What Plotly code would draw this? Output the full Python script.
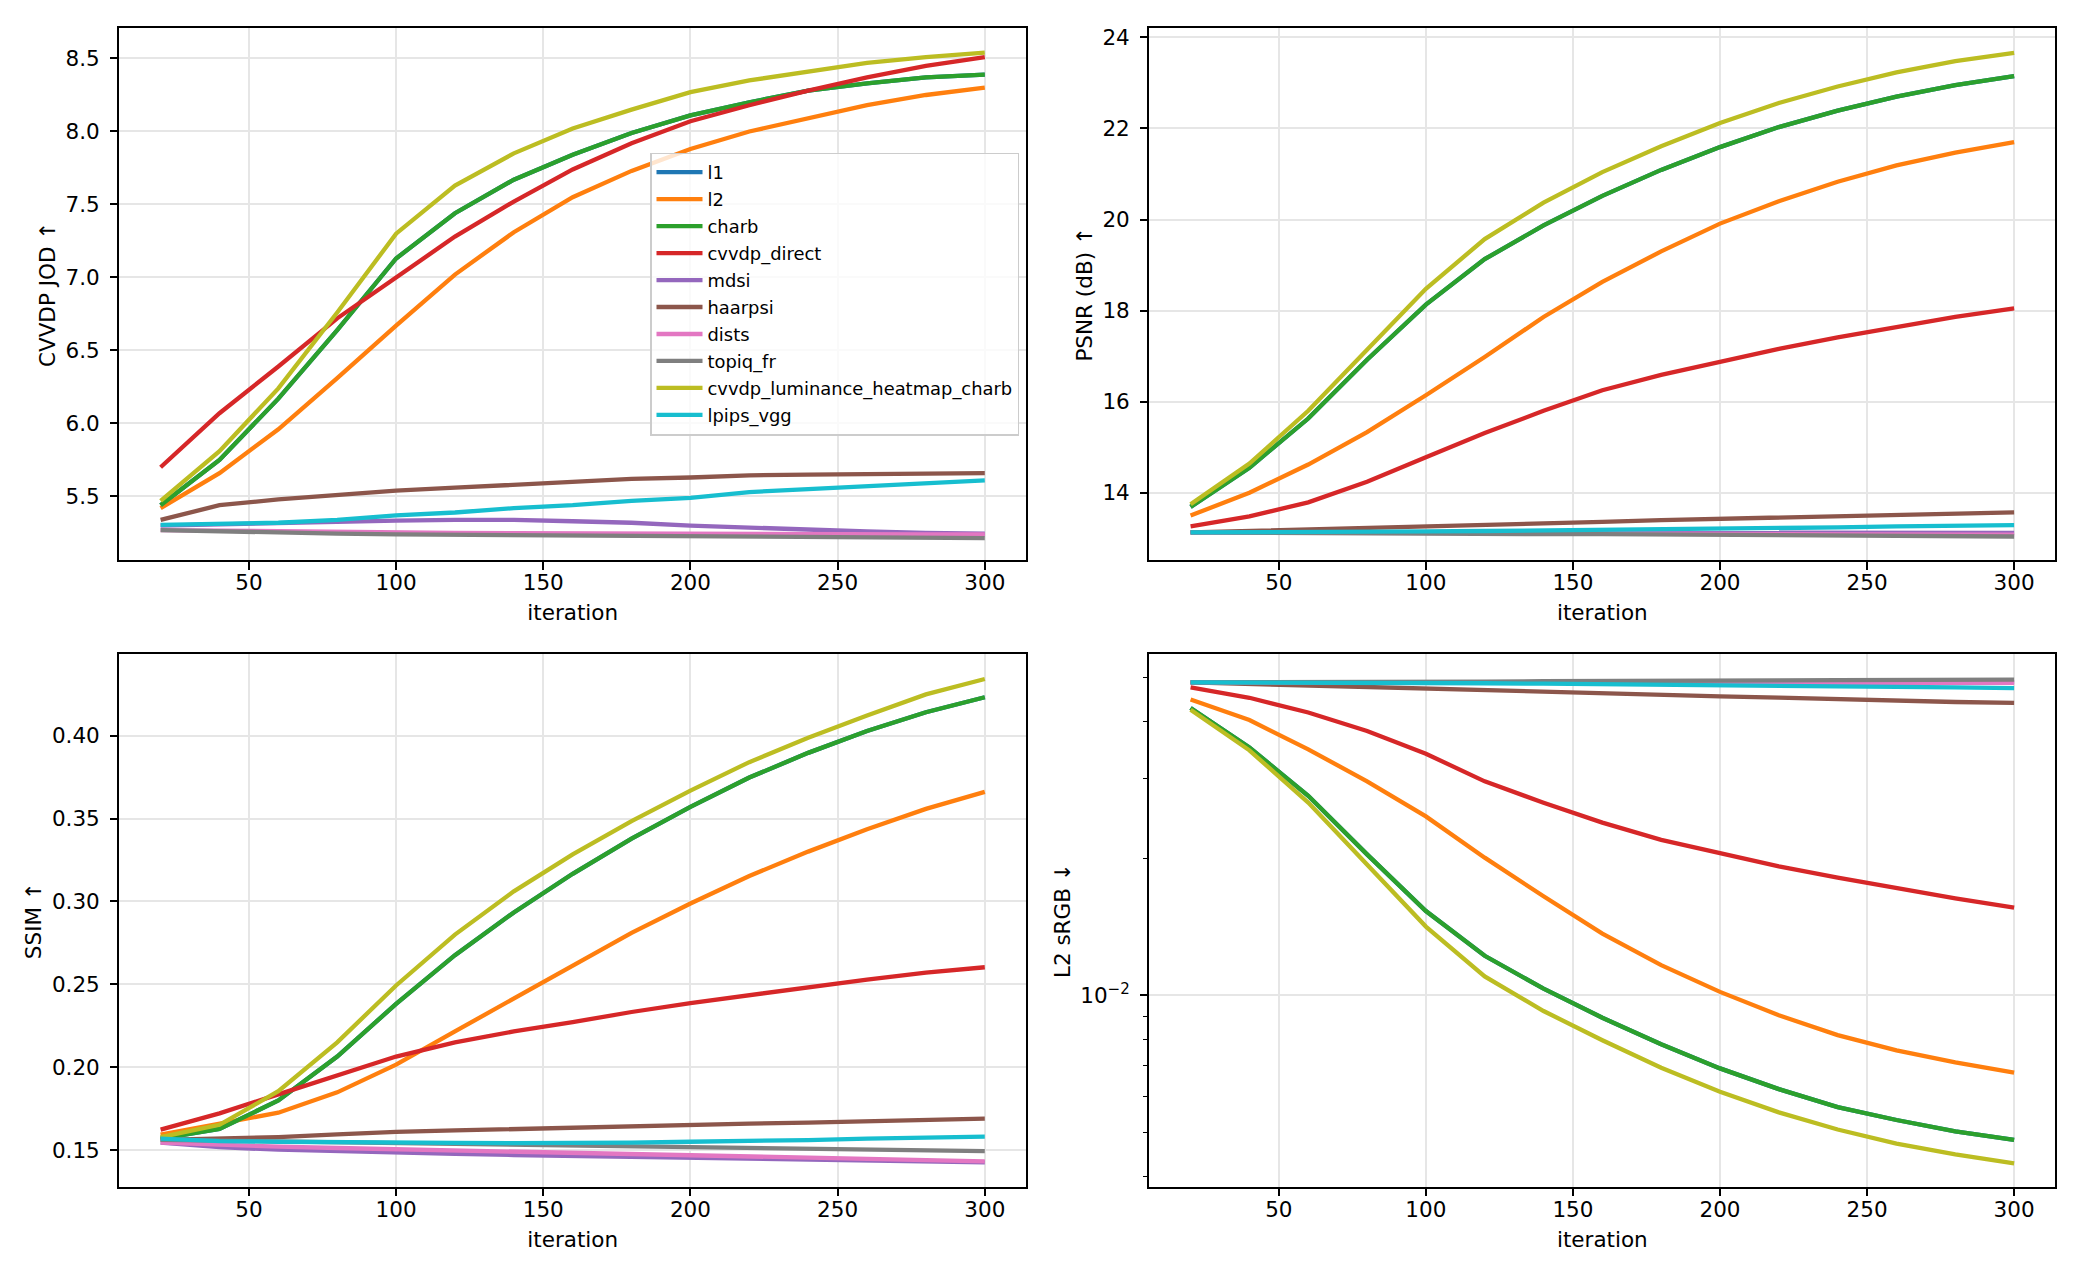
import plotly.graph_objects as go

iterations = [20, 40, 60, 80, 100, 120, 140, 160, 180, 200, 220, 240, 260, 280, 300]

methods = ["l1", "l2", "charb", "cvvdp_direct", "mdsi", "haarpsi", "dists",
           "topiq_fr", "cvvdp_luminance_heatmap_charb", "lpips_vgg"]
colors = ["#1f77b4", "#ff7f0e", "#2ca02c", "#d62728", "#9467bd", "#8c564b",
          "#e377c2", "#7f7f7f", "#bcbd22", "#17becf"]

# CVVDP JOD
jod_charb = [5.44, 5.75, 6.17, 6.64, 7.13, 7.44, 7.67, 7.84, 7.99, 8.11, 8.20, 8.28, 8.33, 8.37, 8.39]
jod = {
    "l1": jod_charb,
    "l2": [5.42, 5.66, 5.96, 6.31, 6.67, 7.02, 7.31, 7.55, 7.73, 7.88, 8.00, 8.09, 8.18, 8.25, 8.30],
    "charb": jod_charb,
    "cvvdp_direct": [5.70, 6.07, 6.39, 6.72, 7.00, 7.28, 7.52, 7.74, 7.92, 8.07, 8.18, 8.28, 8.37, 8.45, 8.51],
    "mdsi": [5.30, 5.31, 5.32, 5.33, 5.335, 5.34, 5.34, 5.33, 5.32, 5.30, 5.285, 5.27, 5.26, 5.25, 5.245],
    "haarpsi": [5.34, 5.44, 5.48, 5.51, 5.54, 5.56, 5.58, 5.60, 5.62, 5.63, 5.645, 5.65, 5.655, 5.66, 5.66],
    "dists": [5.27, 5.265, 5.26, 5.255, 5.25, 5.25, 5.248, 5.246, 5.245, 5.244, 5.243, 5.242, 5.241, 5.24, 5.24],
    "topiq_fr": [5.27, 5.26, 5.25, 5.245, 5.24, 5.237, 5.235, 5.232, 5.23, 5.228, 5.226, 5.224, 5.222, 5.22, 5.215],
    "cvvdp_luminance_heatmap_charb": [5.47, 5.81, 6.24, 6.76, 7.30, 7.63, 7.85, 8.02, 8.15, 8.27, 8.35, 8.41, 8.47, 8.51, 8.54],
    "lpips_vgg": [5.305, 5.31, 5.32, 5.34, 5.37, 5.39, 5.42, 5.44, 5.47, 5.49, 5.53, 5.55, 5.57, 5.59, 5.61],
}

# PSNR (dB)
psnr_charb = [13.69, 14.55, 15.63, 16.92, 18.13, 19.13, 19.87, 20.52, 21.09, 21.59, 22.03, 22.39, 22.70, 22.95, 23.15]
psnr = {
    "l1": psnr_charb,
    "l2": [13.50, 14.00, 14.62, 15.33, 16.14, 16.98, 17.86, 18.63, 19.30, 19.91, 20.40, 20.83, 21.19, 21.47, 21.70],
    "charb": psnr_charb,
    "cvvdp_direct": [13.26, 13.48, 13.79, 14.24, 14.78, 15.31, 15.80, 16.25, 16.59, 16.87, 17.16, 17.41, 17.63, 17.86, 18.05],
    "mdsi": [13.13, 13.13, 13.13, 13.13, 13.13, 13.13, 13.13, 13.13, 13.12, 13.12, 13.12, 13.12, 13.12, 13.12, 13.12],
    "haarpsi": [13.13, 13.16, 13.19, 13.22, 13.26, 13.29, 13.33, 13.36, 13.40, 13.43, 13.46, 13.49, 13.52, 13.54, 13.57],
    "dists": [13.13, 13.13, 13.12, 13.12, 13.12, 13.11, 13.11, 13.11, 13.10, 13.10, 13.10, 13.09, 13.09, 13.09, 13.08],
    "topiq_fr": [13.13, 13.12, 13.12, 13.11, 13.10, 13.10, 13.09, 13.09, 13.08, 13.07, 13.07, 13.06, 13.05, 13.05, 13.04],
    "cvvdp_luminance_heatmap_charb": [13.75, 14.64, 15.80, 17.14, 18.48, 19.57, 20.37, 21.04, 21.61, 22.12, 22.56, 22.92, 23.23, 23.48, 23.66],
    "lpips_vgg": [13.13, 13.13, 13.14, 13.14, 13.15, 13.16, 13.17, 13.18, 13.19, 13.21, 13.22, 13.24, 13.26, 13.27, 13.29],
}

# SSIM
ssim_charb = [0.1569, 0.1627, 0.1799, 0.2064, 0.2382, 0.2676, 0.2934, 0.3167, 0.3380, 0.3571, 0.3748, 0.3897, 0.4029, 0.4142, 0.4233]
ssim = {
    "l1": ssim_charb,
    "l2": [0.1593, 0.1659, 0.1725, 0.1848, 0.2015, 0.2216, 0.2412, 0.2615, 0.2811, 0.2988, 0.3154, 0.3301, 0.3436, 0.3559, 0.3662],
    "charb": ssim_charb,
    "cvvdp_direct": [0.1623, 0.1721, 0.1836, 0.1953, 0.2064, 0.2150, 0.2216, 0.2272, 0.2333, 0.2387, 0.2436, 0.2485, 0.2529, 0.2571, 0.2603],
    "mdsi": [0.1544, 0.1517, 0.1502, 0.1492, 0.1484, 0.1477, 0.1470, 0.1464, 0.1459, 0.1454, 0.1449, 0.1443, 0.1437, 0.1431, 0.1425],
    "haarpsi": [0.1561, 0.1567, 0.1578, 0.1594, 0.1610, 0.1618, 0.1627, 0.1635, 0.1642, 0.1650, 0.1659, 0.1665, 0.1672, 0.1680, 0.1689],
    "dists": [0.1544, 0.1530, 0.1520, 0.1512, 0.1505, 0.1498, 0.1491, 0.1484, 0.1477, 0.1470, 0.1463, 0.1456, 0.1449, 0.1441, 0.1432],
    "topiq_fr": [0.1561, 0.1556, 0.1552, 0.1547, 0.1542, 0.1537, 0.1533, 0.1528, 0.1523, 0.1518, 0.1513, 0.1508, 0.1503, 0.1498, 0.1493],
    "cvvdp_luminance_heatmap_charb": [0.1578, 0.1652, 0.1855, 0.2150, 0.2493, 0.2800, 0.3061, 0.3284, 0.3485, 0.3669, 0.3841, 0.3988, 0.4123, 0.4250, 0.4343],
    "lpips_vgg": [0.1569, 0.1554, 0.1550, 0.1546, 0.1544, 0.1543, 0.1542, 0.1542, 0.1544, 0.1550, 0.1554, 0.1560, 0.1569, 0.1574, 0.1581],
}

# L2 sRGB (log scale)
l2s_charb = [0.04287, 0.03509, 0.02748, 0.02043, 0.01533, 0.01222, 0.01035, 0.00893, 0.00781, 0.00691, 0.00622, 0.00568, 0.00532, 0.00502, 0.00481]
l2srgb = {
    "l1": l2s_charb,
    "l2": [0.04478, 0.04033, 0.03477, 0.02958, 0.02476, 0.02009, 0.01652, 0.01368, 0.01166, 0.01018, 0.00904, 0.00818, 0.00757, 0.00712, 0.00676],
    "charb": l2s_charb,
    "cvvdp_direct": [0.04758, 0.04516, 0.04191, 0.03815, 0.03401, 0.02957, 0.02654, 0.02399, 0.02198, 0.02051, 0.01923, 0.01815, 0.01722, 0.01635, 0.01560],
    "mdsi": [0.0488, 0.0488, 0.0488, 0.0488, 0.0488, 0.0488, 0.0488, 0.0488, 0.0488, 0.0488, 0.0489, 0.0489, 0.0489, 0.0489, 0.0489],
    "haarpsi": [0.0488, 0.0484, 0.0480, 0.0477, 0.0473, 0.0469, 0.0466, 0.0462, 0.0459, 0.0455, 0.0452, 0.0448, 0.0445, 0.0442, 0.0440],
    "dists": [0.0488, 0.0488, 0.0487, 0.0487, 0.0487, 0.0487, 0.0487, 0.0487, 0.0487, 0.0487, 0.0487, 0.0487, 0.0487, 0.0487, 0.0487],
    "topiq_fr": [0.0488, 0.0488, 0.0489, 0.0489, 0.0490, 0.0490, 0.0491, 0.0491, 0.0492, 0.0493, 0.0493, 0.0494, 0.0494, 0.0495, 0.0495],
    "cvvdp_luminance_heatmap_charb": [0.04249, 0.03460, 0.02655, 0.01942, 0.01417, 0.01101, 0.00924, 0.00797, 0.00693, 0.00614, 0.00553, 0.00507, 0.00472, 0.00447, 0.00427],
    "lpips_vgg": [0.0488, 0.0488, 0.0488, 0.0487, 0.0487, 0.0486, 0.0485, 0.0484, 0.0483, 0.0482, 0.0480, 0.0479, 0.0477, 0.0476, 0.0474],
}

x_ticks = [50, 100, 150, 200, 250, 300]

FONT = "DejaVu Sans"
FS = 21.5
LW = 4.3
GRID = "#e6e6e6"

panels = [
    (jod, "x", "y"),
    (psnr, "x2", "y2"),
    (ssim, "x3", "y3"),
    (l2srgb, "x4", "y4"),
]

fig = go.Figure()
for pi, (data, xa, ya) in enumerate(panels):
    for name, col in zip(methods, colors):
        fig.add_trace(go.Scatter(
            x=iterations, y=data[name], mode="lines", name=name,
            line=dict(color=col, width=LW),
            xaxis=xa, yaxis=ya, legendgroup=name, showlegend=(pi == 0),
        ))

W, H = 2080, 1280
xd_left = [119.4 / W, 1026 / W]
xd_right = [1149.4 / W, 2055.3 / W]
yd_top = [1 - 558 / H, 1 - 24.5 / H]
yd_bot = [1 - 1186.5 / H, 1 - 652.5 / H]

def xaxis(domain, anchor):
    return dict(
        domain=domain, anchor=anchor, range=[6, 314], tickmode="array", tickvals=x_ticks,
        showline=True, linecolor="black", linewidth=1.7, mirror=True,
        ticks="outside", ticklen=7.5, tickwidth=1.7, tickcolor="black",
        showgrid=True, gridcolor=GRID, gridwidth=1.6, zeroline=False,
        tickfont=dict(family=FONT, size=FS, color="black"),
        title=dict(text="iteration", font=dict(family=FONT, size=FS, color="black"), standoff=11),
        ticklabelstandoff=-5,
    )

def yaxis(domain, anchor, title, **kw):
    d = dict(
        domain=domain, anchor=anchor,
        showline=True, linecolor="black", linewidth=1.7, mirror=True,
        ticks="outside", ticklen=7.5, tickwidth=1.7, tickcolor="black",
        showgrid=True, gridcolor=GRID, gridwidth=1.6, zeroline=False,
        tickfont=dict(family=FONT, size=FS, color="black"),
        title=dict(text=title, font=dict(family=FONT, size=FS, color="black"), standoff=4),
        ticklabelstandoff=6,
    )
    d.update(kw)
    return d

fig.update_layout(
    width=W, height=H,
    margin=dict(l=0, r=0, t=0, b=0),
    paper_bgcolor="white", plot_bgcolor="white",
    font=dict(family=FONT, size=FS, color="black"),
    xaxis=xaxis(xd_left, "y"),
    xaxis2=xaxis(xd_right, "y2"),
    xaxis3=xaxis(xd_left, "y3"),
    xaxis4=xaxis(xd_right, "y4"),
    yaxis=yaxis(yd_top, "x", "CVVDP JOD ↑", range=[5.063, 8.706],
                tickmode="array", tickvals=[5.5, 6.0, 6.5, 7.0, 7.5, 8.0, 8.5],
                ticktext=["5.5", "6.0", "6.5", "7.0", "7.5", "8.0", "8.5"]),
    yaxis2=yaxis(yd_top, "x2", "PSNR (dB) ↑", range=[12.518, 24.196],
                 tickmode="array", tickvals=[14, 16, 18, 20, 22, 24]),
    yaxis3=yaxis(yd_bot, "x3", "SSIM ↑", range=[0.1278, 0.4491],
                 tickmode="array", tickvals=[0.15, 0.20, 0.25, 0.30, 0.35, 0.40],
                 ticktext=["0.15", "0.20", "0.25", "0.30", "0.35", "0.40"]),
    yaxis4=yaxis(yd_bot, "x4", "L2 sRGB ↓", type="log", range=[-2.421, -1.250],
                 tickmode="array", tickvals=[0.01], ticktext=["10<sup>−2</sup>"],
                 minor=dict(tickmode="array",
                            tickvals=[0.004, 0.005, 0.006, 0.007, 0.008, 0.009, 0.02, 0.03, 0.04, 0.05],
                            ticks="outside", ticklen=4.3, tickwidth=1.3, tickcolor="black",
                            showgrid=False)),
    legend=dict(
        x=650 / W, y=1 - 149 / H, xanchor="left", yanchor="top",
        bgcolor="rgba(255,255,255,0.8)", bordercolor="#cccccc", borderwidth=1.5,
        font=dict(family=FONT, size=17.9, color="black"),
        itemwidth=46, tracegroupgap=0.7,
    ),
    showlegend=True,
)

fig.write_html("out.html")
